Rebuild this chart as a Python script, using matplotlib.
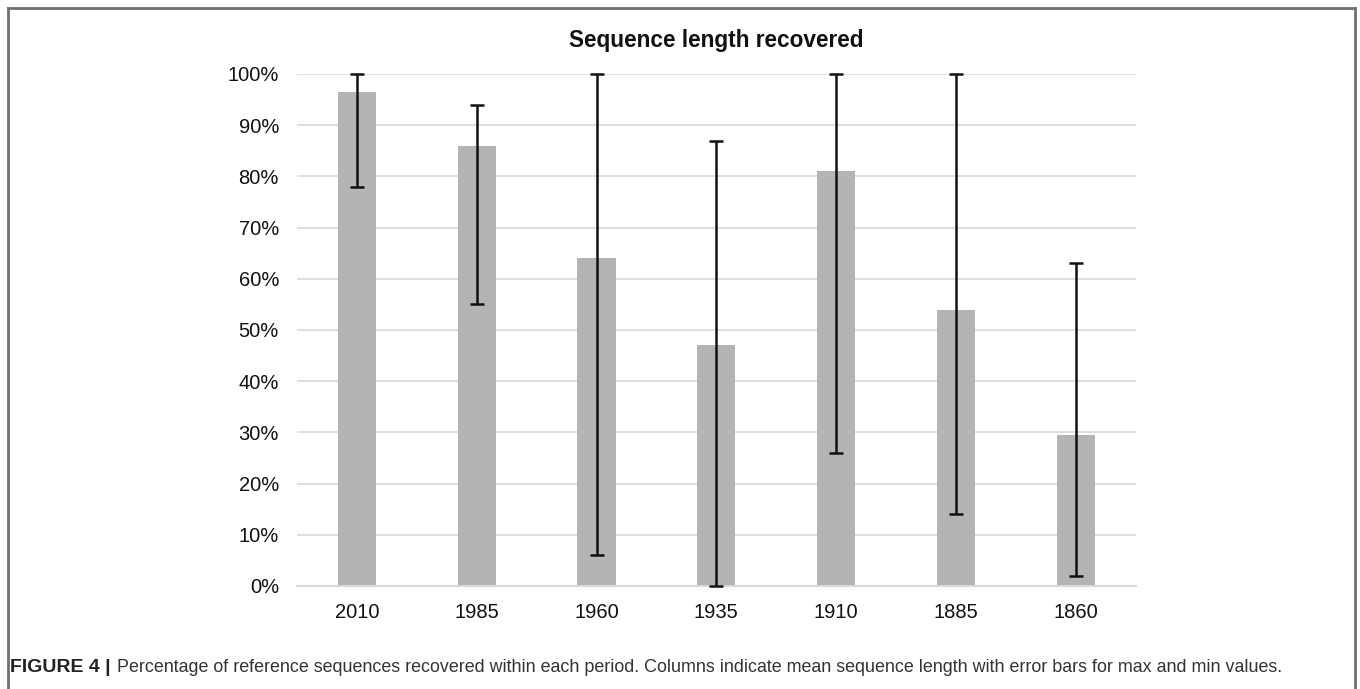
import numpy as np
import matplotlib
matplotlib.use("Agg")
import matplotlib.pyplot as plt
from matplotlib.lines import Line2D

plt.rcParams['font.family'] = ['Liberation Sans', 'DejaVu Sans']

# data
periods = ['2010', '1985', '1960', '1935', '1910', '1885', '1860']
mean_pct = [96.5, 86, 64, 47, 81, 54, 29.5]
min_pct = [78, 55, 6, 0, 26, 14, 2]
max_pct = [100, 94, 100, 87, 100, 100, 63]

fig = plt.figure(figsize=(13.6, 6.89), dpi=100)
ax = fig.add_axes([0.2184, 0.1495, 0.835 - 0.2184, 0.8926 - 0.1495])

x = np.arange(len(periods))
mean = np.array(mean_pct)
lo = mean - np.array(min_pct)
hi = np.array(max_pct) - mean

ax.bar(x, mean, width=0.32, color='#b4b4b4', zorder=2)
eb = ax.errorbar(x, mean, yerr=[lo, hi], fmt='none', ecolor='#111111',
                 elinewidth=1.8, capsize=5, capthick=1.8, zorder=3)
for artist in eb.lines[1] + eb.lines[2]:
    artist.set_clip_on(False)

ax.set_xlim(-0.5, len(periods) - 0.5)
ax.set_ylim(0, 100)
ax.set_yticks(np.arange(0, 101, 10))
ax.set_yticklabels([f'{v}%' for v in range(0, 101, 10)])
ax.set_xticks(x)
ax.set_xticklabels(periods)
ax.tick_params(length=0, labelsize=14.5, colors='#111111')
ax.tick_params(axis='x', pad=12)
ax.tick_params(axis='y', pad=13)
ax.grid(axis='y', color='#d9d9d9', lw=1.2, zorder=0)
ax.set_axisbelow(True)
for s in ['top', 'right', 'left']:
    ax.spines[s].set_visible(False)
ax.spines['bottom'].set_color('#d9d9d9')
ax.spines['bottom'].set_linewidth(1.5)

fig.text(716 / 1360, 1 - 40 / 689, 'Sequence length recovered', ha='center',
         va='center', fontsize=16.3, fontweight='bold', color='#111111')

# frame around the chart panel
fx0, fx1 = 8 / 1360, 1355 / 1360
fy = 1 - 8 / 689
for xs, ys in [([fx0, fx1], [fy, fy]), ([fx0, fx0], [0, fy]), ([fx1, fx1], [0, fy])]:
    fig.add_artist(Line2D(xs, ys, transform=fig.transFigure, color='#707070', lw=2))

# caption
cy = 1 - 668 / 689
t1 = fig.text(10 / 1360, cy, 'FIGURE 4 |', fontsize=14, fontweight='bold',
              color='#222222', va='center')
fig.canvas.draw()
bb = t1.get_window_extent(renderer=fig.canvas.get_renderer())
fig.text((bb.x1 + 6) / 1360, cy,
         'Percentage of reference sequences recovered within each period. '
         'Columns indicate mean sequence length with error bars for max and min values.',
         fontsize=12.9, color='#333333', va='center')

fig.savefig('out.png', dpi=100)
